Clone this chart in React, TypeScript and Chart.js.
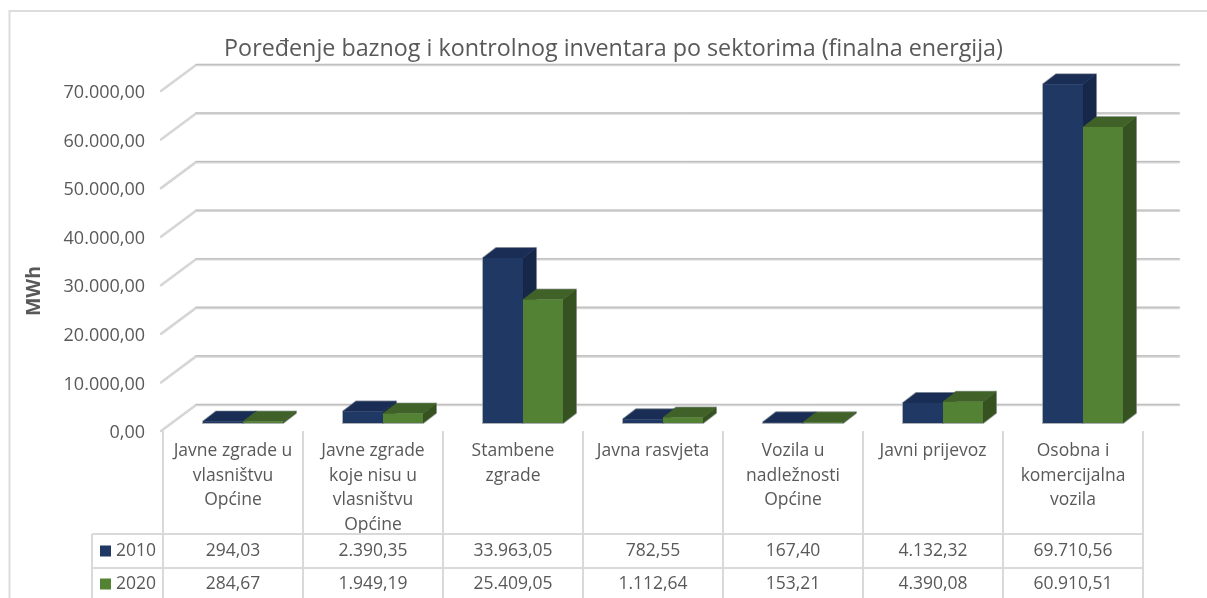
import React, { useEffect, useRef } from "react";
import { Chart, registerables } from "chart.js";

Chart.register(...registerables);

const chartTitle = "Poređenje baznog i kontrolnog inventara po sektorima (finalna energija)";
const axisTitle = "MWh";
const categories = [
  ["Javne zgrade u", "vlasništvu", "Općine"],
  ["Javne zgrade", "koje nisu u", "vlasništvu", "Općine"],
  ["Stambene", "zgrade"],
  ["Javna rasvjeta"],
  ["Vozila u", "nadležnosti", "Općine"],
  ["Javni prijevoz"],
  ["Osobna i", "komercijalna", "vozila"],
];
const series2010 = [294.03, 2390.35, 33963.05, 782.55, 167.4, 4132.32, 69710.56];
const series2020 = [284.67, 1949.19, 25409.05, 1112.64, 153.21, 4390.08, 60910.51];
const seriesLabels = ["2010", "2020"];

const FONT = '"Open Sans", sans-serif';
const TEXT = "#595959";
const LINE = "#d9d9d9";

const fmt = (v: number) =>
  v.toLocaleString("de-DE", { minimumFractionDigits: 2, maximumFractionDigits: 2 });

const faces = [
  { front: "#1f3864", top: "#1a2e55", side: "#16274a" },
  { front: "#548235", top: "#406228", side: "#355220" },
];

// depth of the floor/walls, and of the bars, in pixels
const WALL = { dx: 35, dy: -28, front: -2, right: 36 };
const BAR = { dx: 13, dy: -10, shiftX: 10, shiftY: -10 };

const poly = (ctx: CanvasRenderingContext2D, pts: number[][], fill: string) => {
  ctx.beginPath();
  pts.forEach(([x, y], i) => (i ? ctx.lineTo(x, y) : ctx.moveTo(x, y)));
  ctx.closePath();
  ctx.fillStyle = fill;
  ctx.fill();
  ctx.lineWidth = 0.6;
  ctx.strokeStyle = fill;
  ctx.stroke();
};

const barBox = (el: any) => {
  const { x, y, base, width } = el.getProps(["x", "y", "base", "width"], true);
  return { l: x - width / 2, r: x + width / 2, top: y, base };
};

const scene = {
  id: "scene",
  afterLayout(chart: any) {
    const t = chart.titleBlock;
    t.left = 224;
    t.right = 1003;
  },
  beforeDraw(chart: any) {
    const { ctx, width, height } = chart;
    ctx.save();
    ctx.fillStyle = "#ffffff";
    ctx.fillRect(0, 0, width, height);
    ctx.strokeStyle = "#dcdcdc";
    ctx.lineWidth = 2;
    ctx.beginPath();
    ctx.moveTo(9.5, height);
    ctx.lineTo(9.5, 11);
    ctx.lineTo(width, 11);
    ctx.stroke();
    ctx.restore();
  },
  beforeDatasetsDraw(chart: any) {
    const { ctx, chartArea } = chart;
    const y = chart.scales.y;
    ctx.save();
    ctx.lineCap = "round";
    y.ticks.forEach((t: any) => {
      const py = y.getPixelForValue(t.value);
      const bx = chartArea.left + WALL.dx - 2;
      const by = py + WALL.dy;
      const lx = chartArea.left - 2;
      ctx.strokeStyle = "#d6d6d6";
      ctx.lineWidth = 2.6;
      ctx.beginPath();
      ctx.moveTo(lx, py + WALL.front);
      ctx.lineTo(bx, by);
      ctx.lineTo(chartArea.right + WALL.right, by);
      ctx.stroke();
      ctx.strokeStyle = "#bdbdbd";
      ctx.lineWidth = 1;
      ctx.beginPath();
      ctx.moveTo(bx, by - 0.6);
      ctx.lineTo(chartArea.right + WALL.right, by - 0.6);
      ctx.stroke();
    });
    ctx.restore();

    ctx.save();
    ctx.translate(BAR.shiftX, BAR.shiftY);
    // thin grey halo around each bar's silhouette
    [0, 1].forEach((ds) => {
      chart.getDatasetMeta(ds).data.forEach((el: any) => {
        const { l, r, top, base } = barBox(el);
        ctx.beginPath();
        ctx.moveTo(l, base);
        ctx.lineTo(l, top);
        ctx.lineTo(l + BAR.dx, top + BAR.dy);
        ctx.lineTo(r + BAR.dx, top + BAR.dy);
        ctx.lineTo(r + BAR.dx, base + BAR.dy);
        ctx.lineTo(r, base);
        ctx.closePath();
        ctx.strokeStyle = "rgba(140,145,150,0.7)";
        ctx.lineWidth = 2;
        ctx.stroke();
      });
    });
    [0, 1].forEach((ds) => {
      const c = faces[ds];
      chart.getDatasetMeta(ds).data.forEach((el: any) => {
        const { l, r, top, base } = barBox(el);
        poly(ctx, [[r, top], [r + BAR.dx, top + BAR.dy], [r + BAR.dx, base + BAR.dy], [r, base]], c.side);
        poly(ctx, [[l, top], [l + BAR.dx, top + BAR.dy], [r + BAR.dx, top + BAR.dy], [r, top]], c.top);
      });
    });
    // kept open: the library's own bar fronts are drawn inside this shift
  },
  afterDatasetsDraw(chart: any) {
    chart.ctx.restore();
  },
  afterDraw(chart: any) {
    const { ctx, chartArea, height } = chart;
    const xs = chart.scales.x;
    const rowTop = 534;
    const rowMid = 568;
    const keyLeft = 92;
    const tableTop = chartArea.bottom - 2;
    ctx.save();
    ctx.strokeStyle = LINE;
    ctx.lineWidth = 2;
    ctx.beginPath();
    ctx.moveTo(keyLeft, rowTop);
    ctx.lineTo(chartArea.right, rowTop);
    ctx.moveTo(keyLeft, rowMid);
    ctx.lineTo(chartArea.right, rowMid);
    ctx.moveTo(keyLeft, rowTop);
    ctx.lineTo(keyLeft, height);
    categories.forEach((_, i) => {
      const bx = xs.getPixelForValue(i) - xs.width / categories.length / 2;
      ctx.moveTo(bx, tableTop);
      ctx.lineTo(bx, height);
    });
    ctx.moveTo(chartArea.right, tableTop);
    ctx.lineTo(chartArea.right, height);
    ctx.stroke();

    ctx.font = `17.5px ${FONT}`;
    ctx.fillStyle = TEXT;
    ctx.textAlign = "center";
    ctx.textBaseline = "middle";
    [series2010, series2020].forEach((vals, r) => {
      const cy = r === 0 ? 551.5 : 584.5;
      vals.forEach((v, i) => ctx.fillText(fmt(v), xs.getPixelForValue(i), cy));
      ctx.fillStyle = faces[r].front;
      ctx.fillRect(100, cy - 6, 11, 11);
      ctx.fillStyle = TEXT;
      ctx.textAlign = "left";
      ctx.fillText(seriesLabels[r], 116, cy);
      ctx.textAlign = "center";
    });

    ctx.translate(34, 291);
    ctx.rotate(-Math.PI / 2);
    ctx.font = `bold 19.5px ${FONT}`;
    ctx.fillText(axisTitle, 0, 0);
    ctx.restore();
  },
};

export default function App() {
  const ref = useRef<HTMLCanvasElement | null>(null);
  useEffect(() => {
    const chart = new Chart(ref.current as HTMLCanvasElement, {
      type: "bar",
      data: {
        labels: categories as any,
        datasets: [series2010, series2020].map((data, i) => ({
          label: seriesLabels[i],
          data,
          backgroundColor: faces[i].front,
          borderWidth: 0,
          clip: false as any,
          barPercentage: 1,
          categoryPercentage: 80 / 140,
        })),
      },
      options: {
        animation: false,
        responsive: false,
        events: [],
        layout: { padding: { left: 27, right: 64, top: 0, bottom: 0 } },
        plugins: {
          legend: { display: false },
          tooltip: { enabled: false },
          title: {
            display: true,
            text: chartTitle,
            color: TEXT,
            font: { family: FONT, size: 23.3, weight: "normal", lineHeight: 1.2 },
            padding: { top: 35, bottom: 30 },
          },
        },
        scales: {
          x: {
            grid: { display: false },
            border: { display: false },
            ticks: {
              color: TEXT,
              font: { family: FONT, size: 17.5, lineHeight: 1.4 },
              padding: -2,
              maxRotation: 0,
              autoSkip: false,
            },
            afterFit(s: any) {
              s.height = 165;
            },
          },
          y: {
            min: 0,
            max: 70000,
            grid: { display: false },
            border: { display: false },
            ticks: {
              stepSize: 10000,
              color: TEXT,
              font: { family: FONT, size: 18 },
              padding: 10,
              callback: (v: any) => fmt(Number(v)),
            },
            afterFit(s: any) {
              s.width = 136;
            },
          },
        },
      },
      plugins: [scene as any],
    } as any);
    return () => chart.destroy();
  }, []);
  return (
    <div style={{ position: "fixed", left: 0, top: 0, width: 1207, height: 598, overflow: "hidden" }}>
      <canvas ref={ref} width={1207} height={598} style={{ display: "block", filter: "blur(0.45px)" }} />
    </div>
  );
}
